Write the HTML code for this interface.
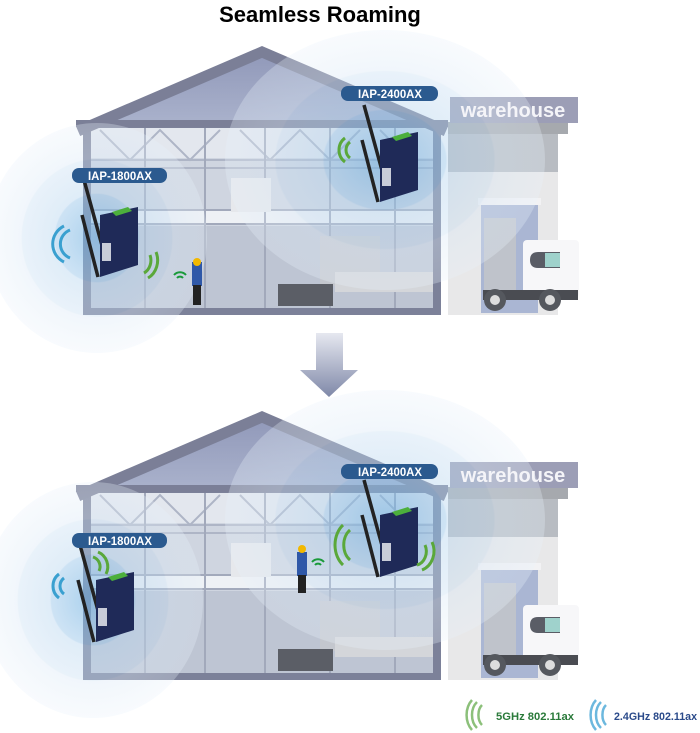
<!DOCTYPE html>
<html><head><meta charset="utf-8"><style>
html,body{margin:0;padding:0;background:#fff;width:700px;height:733px;overflow:hidden}
svg{display:block}
text{font-family:"Liberation Sans",sans-serif}
</style></head><body>
<svg width="700" height="733" viewBox="0 0 700 733" xmlns="http://www.w3.org/2000/svg">
<defs>
<radialGradient id="wave" cx="50%" cy="50%" r="50%">
<stop offset="0" stop-color="#6fb0e0" stop-opacity="0.6"/>
<stop offset="0.38" stop-color="#9cc7ea" stop-opacity="0.5"/>
<stop offset="0.39" stop-color="#b8d6ef" stop-opacity="0.45"/>
<stop offset="0.68" stop-color="#c8def2" stop-opacity="0.4"/>
<stop offset="0.69" stop-color="#dbe9f6" stop-opacity="0.4"/>
<stop offset="1" stop-color="#e8f1fa" stop-opacity="0.3"/>
</radialGradient>
<linearGradient id="arr" x1="0" y1="0" x2="0" y2="1">
<stop offset="0" stop-color="#e6e8f0"/><stop offset="1" stop-color="#7f88a8"/>
</linearGradient>
<linearGradient id="roofg" x1="0" y1="0" x2="0" y2="1">
<stop offset="0" stop-color="#8f97b8"/><stop offset="1" stop-color="#aab2cc"/>
</linearGradient>
<g id="scene">
 <rect x="448" y="122" width="110" height="193" fill="#e8e8e9"/>
 <rect x="448" y="122" width="110" height="50" fill="#b8bcc2"/>
 <rect x="448" y="122" width="120" height="12" fill="#a6a9ae"/>
 <rect x="481" y="203" width="57" height="110" fill="#aab6d3"/>
 <rect x="478" y="198" width="63" height="7" fill="#f2f2f4"/>
 <rect x="484" y="218" width="32" height="78" fill="#bfc3cb"/>
 <rect x="523" y="240" width="56" height="58" rx="4" fill="#f7f7f9"/>
 <path d="M530 260 q0 -8 8 -8 h22 v16 h-22 q-8 0 -8 -8z" fill="#5a5d66"/>
 <rect x="545" y="253" width="15" height="14" fill="#9fd2cc"/>
 <rect x="483" y="290" width="95" height="10" fill="#4a4c52"/>
 <circle cx="495" cy="300" r="11" fill="#55585e"/><circle cx="495" cy="300" r="5" fill="#ddd"/>
 <circle cx="550" cy="300" r="11" fill="#55585e"/><circle cx="550" cy="300" r="5" fill="#ddd"/>
 <rect x="450" y="97" width="128" height="26" fill="#9c9eb6"/>
 <polygon points="262,48 80,125 444,125" fill="url(#roofg)"/>
 <rect x="83" y="120" width="358" height="195" fill="#7c8199"/>
 <rect x="91" y="128" width="342" height="180" fill="#cfd5e0"/>
 <rect x="91" y="128" width="342" height="30" fill="#e3e7ee"/>
 <rect x="91" y="226" width="342" height="82" fill="#bec5d3"/>
 <g stroke="#aeb5c6" stroke-width="2" fill="none">
  <path d="M100 130 L130 160 L160 130 L190 160 L220 130 M240 130 L270 160 L300 130 L330 160 L360 130 M380 130 L410 160"/>
  <line x1="91" y1="160" x2="433" y2="160"/>
  <line x1="91" y1="168" x2="433" y2="168"/>
 </g>
 <rect x="91" y="210" width="342" height="14" fill="#eef1f5"/>
 <g stroke="#a2a9bb" stroke-width="2">
  <line x1="91" y1="210" x2="433" y2="210"/><line x1="91" y1="224" x2="433" y2="224"/>
  <line x1="145" y1="128" x2="145" y2="308"/><line x1="205" y1="128" x2="205" y2="308"/>
  <line x1="265" y1="128" x2="265" y2="308"/><line x1="330" y1="128" x2="330" y2="308"/>
  <line x1="395" y1="128" x2="395" y2="308"/>
 </g>
 <rect x="231" y="178" width="40" height="34" fill="#e6e8ec"/>
 <rect x="320" y="236" width="60" height="50" fill="#c4c7ce"/>
 <rect x="278" y="284" width="55" height="22" fill="#5b5e66"/>
 <rect x="335" y="272" width="98" height="20" fill="#d4d6da"/>
 <polyline points="78,131 262,52 446,131" fill="none" stroke="#7b7f97" stroke-width="11"/>
 <rect x="76" y="120" width="372" height="7" fill="#7b7f97"/>
</g>
<g id="ap">
 <line x1="-8" y1="-35" x2="14" y2="45" stroke="#222" stroke-width="3.5"/>
 <line x1="-10" y1="0" x2="6" y2="62" stroke="#222" stroke-width="3.5"/>
 <polygon points="8,0 46,-8 46,50 8,62" fill="#1f2a58"/>
 <polygon points="20,-3 36,-8 40,-4 24,1" fill="#4caf3c"/>
 <rect x="10" y="28" width="9" height="18" fill="#c8ccd8"/>
</g>
</defs>

<text x="320" y="22" text-anchor="middle" font-size="22" font-weight="bold" fill="#000">Seamless Roaming</text>

<use href="#scene"/>
<ellipse cx="385" cy="160" rx="160" ry="130" fill="url(#wave)"/>
<ellipse cx="97" cy="238" rx="110" ry="115" fill="url(#wave)"/>
<text x="513" y="117" text-anchor="middle" font-size="20" font-weight="bold" fill="#f4f4f8">warehouse</text>
<use href="#ap" transform="translate(92,215)"/>
<use href="#ap" transform="translate(372,140)"/>
<path d="M70 230 a15 15 0 0 0 0 28 M64 226 a20 20 0 0 0 0 36" fill="none" stroke="#3aa0d0" stroke-width="3"/>
<path d="M150 255 a12 14 0 0 1 -6 18 M156 252 a18 20 0 0 1 -8 26" fill="none" stroke="#5aa83a" stroke-width="3"/>
<path d="M350 142 a10 10 0 0 0 0 16 M345 138 a15 15 0 0 0 0 24" fill="none" stroke="#5aa83a" stroke-width="3"/>
<rect x="192" y="262" width="10" height="24" fill="#2f58a8"/><circle cx="197" cy="262" r="4" fill="#f2b800"/>
<rect x="193" y="285" width="8" height="20" fill="#222"/>
<path d="M174 275 a8 8 0 0 1 12 0 M177 278 a4 4 0 0 1 6 0" fill="none" stroke="#1a9a3a" stroke-width="2"/>
<rect x="72" y="168" width="95" height="15" rx="7" fill="#2b5a8f"/>
<text x="88" y="180" font-size="12" font-weight="bold" fill="#fff" textLength="64" lengthAdjust="spacingAndGlyphs">IAP-1800AX</text>
<rect x="341" y="86" width="97" height="15" rx="7" fill="#2b5a8f"/>
<text x="358" y="98" font-size="12" font-weight="bold" fill="#fff" textLength="64" lengthAdjust="spacingAndGlyphs">IAP-2400AX</text>

<polygon points="316,333 343,333 343,370 358,370 329,397 300,370 316,370" fill="url(#arr)"/>

<use href="#scene" transform="translate(0,365)"/>
<ellipse cx="385" cy="520" rx="160" ry="130" fill="url(#wave)"/>
<ellipse cx="93" cy="600" rx="110" ry="118" fill="url(#wave)"/>
<text x="513" y="482" text-anchor="middle" font-size="20" font-weight="bold" fill="#f4f4f8">warehouse</text>
<use href="#ap" transform="translate(88,580)"/>
<use href="#ap" transform="translate(372,515)"/>
<path d="M64 578 a10 10 0 0 0 0 16 M59 574 a15 15 0 0 0 0 24" fill="none" stroke="#3aa0d0" stroke-width="3"/>
<path d="M93 557 a10 10 0 0 1 6 14 M98 552 a16 16 0 0 1 8 22" fill="none" stroke="#5aa83a" stroke-width="3"/>
<path d="M350 530 a14 18 0 0 0 0 30 M343 525 a20 25 0 0 0 0 40" fill="none" stroke="#5aa83a" stroke-width="3"/>
<path d="M425 545 a12 14 0 0 1 -8 20 M432 542 a18 20 0 0 1 -10 28" fill="none" stroke="#5aa83a" stroke-width="3"/>
<rect x="297" y="552" width="10" height="24" fill="#2f58a8"/><circle cx="302" cy="549" r="4" fill="#f2b800"/>
<rect x="298" y="575" width="8" height="18" fill="#222"/>
<path d="M312 562 a8 8 0 0 1 12 0 M315 565 a4 4 0 0 1 6 0" fill="none" stroke="#1a9a3a" stroke-width="2"/>
<rect x="72" y="533" width="95" height="15" rx="7" fill="#2b5a8f"/>
<text x="88" y="545" font-size="12" font-weight="bold" fill="#fff" textLength="64" lengthAdjust="spacingAndGlyphs">IAP-1800AX</text>
<rect x="341" y="464" width="97" height="15" rx="7" fill="#2b5a8f"/>
<text x="358" y="476" font-size="12" font-weight="bold" fill="#fff" textLength="64" lengthAdjust="spacingAndGlyphs">IAP-2400AX</text>

<path d="M482 705 a8 12 0 0 0 0 20 M477 702 a12 16 0 0 0 0 26 M472 700 a16 20 0 0 0 0 30" fill="none" stroke="#8cc07a" stroke-width="2.5"/>
<text x="496" y="720" font-size="11" font-weight="bold" fill="#2a7a3a" textLength="78" lengthAdjust="spacingAndGlyphs">5GHz 802.11ax</text>
<path d="M606 705 a8 12 0 0 0 0 20 M601 702 a12 16 0 0 0 0 26 M596 700 a16 20 0 0 0 0 30" fill="none" stroke="#6cb8de" stroke-width="2.5"/>
<text x="614" y="720" font-size="11" font-weight="bold" fill="#2a4a8a" textLength="83" lengthAdjust="spacingAndGlyphs">2.4GHz 802.11ax</text>
</svg>
</body></html>
